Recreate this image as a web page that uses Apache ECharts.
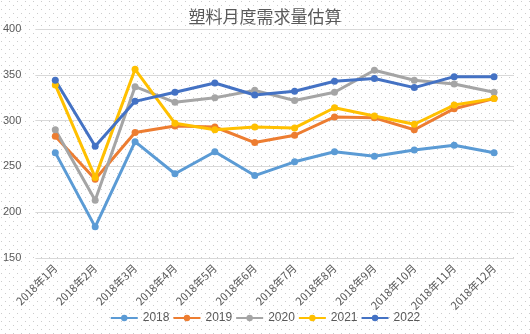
<!DOCTYPE html>
<html>
<head>
<meta charset="utf-8">
<style>html,body{margin:0;padding:0;background:#fff}#c{width:530px;height:334px}</style>
<script src="https://cdn.jsdelivr.net/npm/echarts@6/dist/echarts.min.js"></script>
</head>
<body>
<div id="c"></div>
<script>
var categories = ['2018年1月','2018年2月','2018年3月','2018年4月','2018年5月','2018年6月','2018年7月','2018年8月','2018年9月','2018年10月','2018年11月','2018年12月'];
var s2018 = [265, 184, 277, 242, 266, 240, 255, 266, 261, 268, 273, 265];
var s2019 = [283, 236, 287, 294, 293, 276, 284, 304, 303, 290, 313, 324];
var s2020 = [290, 213, 337, 320, 325, 333, 322, 331, 355, 344, 340, 331];
var s2021 = [339, 238, 356, 297, 290, 293, 292, 314, 305, 296, 317, 324];
var s2022 = [344, 272, 321, 331, 341, 328, 332, 343, 346, 336, 348, 348];
var seriesNames = ['2018','2019','2020','2021','2022'];
var yTicks = [150, 200, 250, 300, 350, 400];

var colors = ['#5B9BD5','#ED7D31','#A5A5A5','#FFC000','#4472C4'];
var allData = [s2018, s2019, s2020, s2021, s2022];

var pc = document.createElement('canvas');
pc.width = 8; pc.height = 8;
var pctx = pc.getContext('2d');
pctx.fillStyle = '#fff'; pctx.fillRect(0,0,8,8);
pctx.fillStyle = '#cccccc';
pctx.fillRect(1,1,1,1);
pctx.fillRect(5,5,1,1);

var chart = echarts.init(document.getElementById('c'), null, {renderer:'canvas'});
var font = '"Liberation Sans", "Noto Sans CJK SC", sans-serif';
chart.setOption({
  backgroundColor: {image: pc, repeat: 'repeat'},
  animation: false,
  color: colors,
  title: {
    text: '塑料月度需求量估算',
    left: 'center', top: 3,
    textStyle: {fontSize: 17, fontWeight: 'normal', color: '#595959', fontFamily: '"Noto Sans CJK SC", sans-serif'}
  },
  legend: {
    bottom: 5, left: 'center',
    itemWidth: 27, itemHeight: 8, itemGap: 3,
    textStyle: {fontSize: 12, color: '#595959', fontFamily: font},
    data: seriesNames
  },
  grid: {left: 34, right: 16, top: 29, bottom: 76, containLabel: false},
  xAxis: {
    type: 'category',
    data: categories,
    boundaryGap: true,
    axisLine: {show: false},
    axisTick: {show: false},
    axisLabel: {rotate: 45, fontSize: 11, color: '#595959', margin: 8, interval: 0, fontFamily: '"Noto Sans CJK SC", sans-serif'}
  },
  yAxis: {
    type: 'value',
    min: yTicks[0], max: yTicks[yTicks.length-1], interval: 50,
    axisLine: {show: false},
    axisTick: {show: false},
    splitLine: {lineStyle: {color: '#d9d9d9', width: 1}},
    axisLabel: {fontSize: 11, color: '#595959', margin: 14, fontFamily: font}
  },
  series: seriesNames.map(function(n, i){
    return {
      name: n, type: 'line', data: allData[i],
      symbol: 'circle', symbolSize: 7,
      lineStyle: {width: 3, color: colors[i]},
      itemStyle: {color: colors[i]}
    };
  })
});
</script>
</body>
</html>
